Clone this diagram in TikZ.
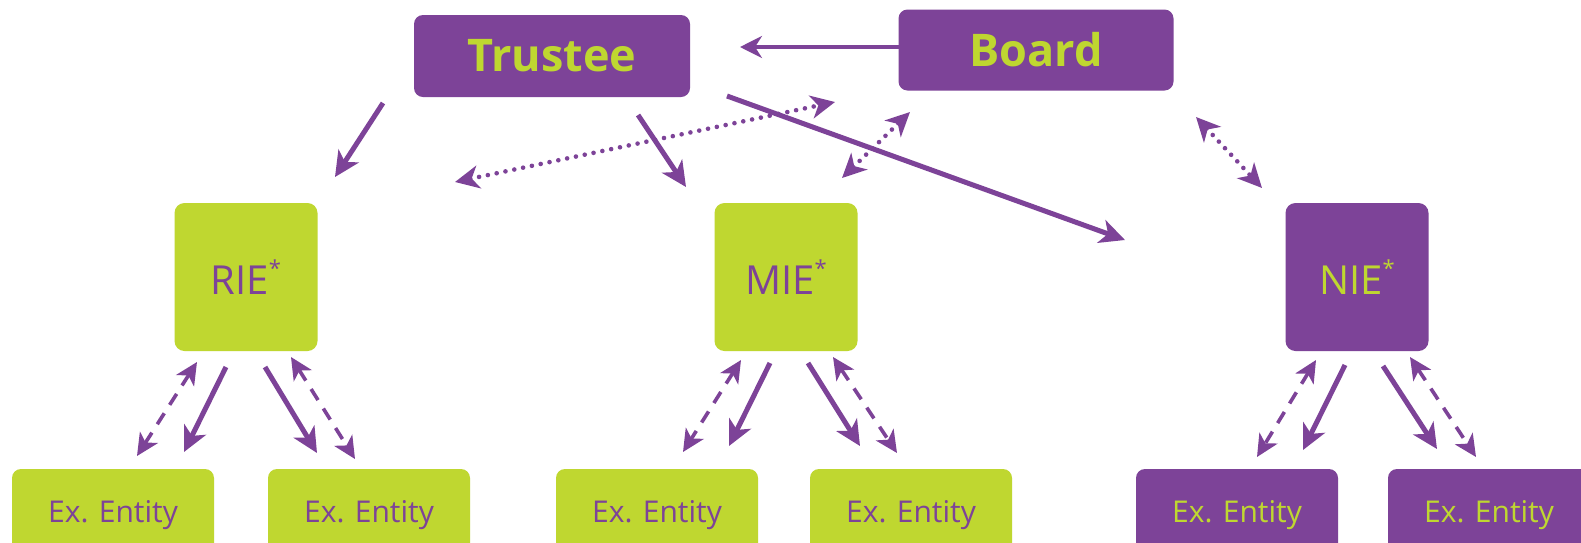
\documentclass[tikz,border=0pt]{standalone}
\usepackage{fontspec}
\setmainfont{Open Sans}
\usetikzlibrary{arrows.meta}
\definecolor{pur}{RGB}{125,67,152}
\definecolor{grn}{RGB}{191,215,48}
\tikzset{
  topbox/.style={fill=pur, text=grn, rounded corners=9pt, inner sep=0pt,
    minimum width=276pt, minimum height=82pt, font=\fontsize{45}{45}\selectfont\bfseries},
  iebox/.style={rounded corners=10pt, inner sep=0pt, minimum width=143pt,
    minimum height=148pt, font=\fontsize{40}{40}\selectfont},
  gbox/.style={fill=grn, text=pur},
  pbox/.style={fill=pur, text=grn},
  exbox/.style={rounded corners=9pt, inner sep=0pt, minimum width=202pt,
    minimum height=100pt, font=\fontsize{30}{30}\selectfont},
  sol/.style={draw=pur, line width=5pt, -{Stealth[length=25pt,width=24pt,inset=7pt]}},
  thinarr/.style={draw=pur, line width=3.2pt, -{Stealth[length=22pt,width=22pt,inset=7pt]}},
  dotl/.style={draw=pur, line width=4.6pt, line cap=round, dash pattern=on 0pt off 9pt,
    {Stealth[length=24pt,width=23pt,inset=7pt]}-{Stealth[length=24pt,width=23pt,inset=7pt]}},
  dshl/.style={draw=pur, line width=3.6pt, dash pattern=on 13pt off 10pt,
    {Stealth[length=22pt,width=21pt,inset=6pt]}-{Stealth[length=22pt,width=21pt,inset=6pt]}}
}
\newcommand{\sstar}{\raisebox{0.45em}{\fontsize{22}{22}\selectfont *}}
\begin{document}
\begin{tikzpicture}[x=1pt,y=-1pt]
\useasboundingbox (0,0) rectangle (1581,542);
\fill[white] (0,0) rectangle (1581,542);

\node[topbox] (trustee) at (552,56) {Trustee};
\node[topbox, minimum width=275pt, minimum height=81pt] (board) at (1036,50) {Board};

\node[iebox,gbox] (rie) at (246,277) {RIE\sstar};
\node[iebox,gbox] (mie) at (786,277) {MIE\sstar};
\node[iebox,pbox] (nie) at (1357,277) {NIE\sstar};

\node[exbox,gbox] (e1) at (113,519) {\raisebox{16pt}{Ex. Entity}};
\node[exbox,gbox] (e2) at (369,519) {\raisebox{16pt}{Ex. Entity}};
\node[exbox,gbox] (e3) at (657,519) {\raisebox{16pt}{Ex. Entity}};
\node[exbox,gbox] (e4) at (911,519) {\raisebox{16pt}{Ex. Entity}};
\node[exbox,pbox] (e5) at (1237,519) {\raisebox{16pt}{Ex. Entity}};
\node[exbox,pbox] (e6) at (1489,519) {\raisebox{16pt}{Ex. Entity}};

\coordinate (b1) at (899,47);   \coordinate (b2) at (740,47);
\coordinate (t1) at (383,103);  \coordinate (t2) at (335,177);
\coordinate (m1) at (638,115);  \coordinate (m2) at (686,187);
\coordinate (n1) at (727,96);   \coordinate (n2) at (1125,240);
\coordinate (d1) at (455,182);  \coordinate (d2) at (835,102);
\coordinate (d3) at (842,178);  \coordinate (d4) at (910,112);
\coordinate (d5) at (1196,117); \coordinate (d6) at (1262,188);

\draw[thinarr] (b1) -- (b2);
\draw[sol] (t1) -- (t2);
\draw[sol] (m1) -- (m2);
\draw[sol] (n1) -- (n2);
\draw[dotl] (d1) -- (d2);
\draw[dotl] (d3) -- (d4);
\draw[dotl] (d5) -- (d6);

\coordinate (r1) at (197,362); \coordinate (r2) at (137,456);
\coordinate (r3) at (226,367); \coordinate (r4) at (184,452);
\coordinate (r5) at (265,367); \coordinate (r6) at (317,453);
\coordinate (r7) at (291,357); \coordinate (r8) at (355,459);
\draw[dshl] (r1) -- (r2);
\draw[sol] (r3) -- (r4);
\draw[sol] (r5) -- (r6);
\draw[dshl] (r7) -- (r8);

\coordinate (s1) at (741,360); \coordinate (s2) at (683,452);
\coordinate (s3) at (770,363); \coordinate (s4) at (729,446);
\coordinate (s5) at (808,363); \coordinate (s6) at (860,446);
\coordinate (s7) at (833,357); \coordinate (s8) at (897,453);
\draw[dshl] (s1) -- (s2);
\draw[sol] (s3) -- (s4);
\draw[sol] (s5) -- (s6);
\draw[dshl] (s7) -- (s8);

\coordinate (u1) at (1316,360); \coordinate (u2) at (1257,457);
\coordinate (u3) at (1345,365); \coordinate (u4) at (1303,450);
\coordinate (u5) at (1383,366); \coordinate (u6) at (1437,449);
\coordinate (u7) at (1410,357); \coordinate (u8) at (1476,457);
\draw[dshl] (u1) -- (u2);
\draw[sol] (u3) -- (u4);
\draw[sol] (u5) -- (u6);
\draw[dshl] (u7) -- (u8);
\end{tikzpicture}
\end{document}
